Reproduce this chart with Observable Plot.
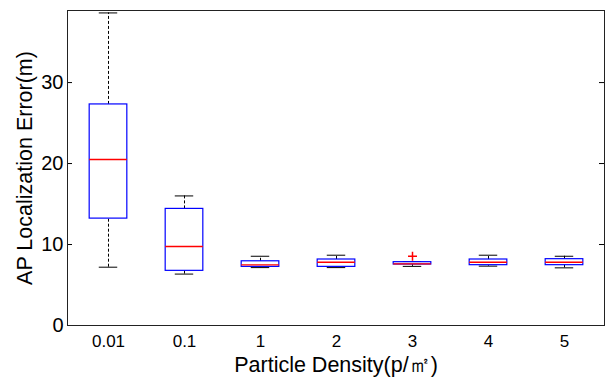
<!DOCTYPE html>
<html>
<head>
<meta charset="utf-8">
<script src="https://cdn.jsdelivr.net/npm/d3@7"></script>
<script src="https://cdn.jsdelivr.net/npm/@observablehq/plot@0.6"></script>
<style>
  html, body { margin: 0; padding: 0; background: #fff; }
  #chart svg { font-family: "Liberation Sans", Arial, sans-serif; display: block; }
</style>
</head>
<body>
<div id="chart"></div>
<script>
const categories = ["0.01", "0.1", "1", "2", "3", "4", "5"];
const lowerWhisker = [7.2, 6.35, 7.15, 7.15, 7.3, 7.33, 7.12];
const q1 = [13.2, 6.75, 7.24, 7.24, 7.53, 7.45, 7.45];
const median = [20.5, 9.75, 7.49, 7.82, 7.61, 7.82, 7.82];
const q3 = [27.3, 14.4, 7.93, 8.15, 7.82, 8.15, 8.19];
const upperWhisker = [38.6, 16.0, 8.55, 8.68, 7.9, 8.68, 8.55];
const outlierCategory = ["3"];
const outlierValue = [8.55];
const yTicks = [0, 10, 20, 30];
const xLabel = "Particle Density(p/㎡)";
const yLabel = "AP Localization Error(m)";

const boxes = categories.map((c, i) => ({
  cat: c, lo: lowerWhisker[i], q1: q1[i], med: median[i], q3: q3[i], hi: upperWhisker[i]
}));
const outliers = outlierCategory.map((c, i) => ({cat: c, v: outlierValue[i]}));

const W = 607, H = 379, ML = 67, MR = 3, MT = 10, MB = 54;
const innerW = W - ML - MR;
const band = innerW / categories.length;
const boxInset = band * 0.25;
const capInset = band * 0.375;

const chart = Plot.plot({
  width: W, height: H,
  marginLeft: ML, marginRight: MR, marginTop: MT, marginBottom: MB,
  x: {type: "band", domain: categories, padding: 0},
  y: {domain: [0, 38.9]},
  marks: [
    Plot.ruleX(boxes, {x: "cat", y1: "q3", y2: "hi", stroke: "black", strokeDasharray: "3,2"}),
    Plot.ruleX(boxes, {x: "cat", y1: "lo", y2: "q1", stroke: "black", strokeDasharray: "3,2"}),
    Plot.tickY(boxes, {x: "cat", y: "hi", stroke: "black", insetLeft: capInset, insetRight: capInset}),
    Plot.tickY(boxes, {x: "cat", y: "lo", stroke: "black", insetLeft: capInset, insetRight: capInset}),
    Plot.barY(boxes, {x: "cat", y1: "q1", y2: "q3", fill: "white", stroke: "#0000ff", strokeWidth: 1.2, insetLeft: boxInset, insetRight: boxInset}),
    Plot.tickY(boxes, {x: "cat", y: "med", stroke: "#ff0000", strokeWidth: 1.4, insetLeft: boxInset, insetRight: boxInset}),
    Plot.dot(outliers, {x: "cat", y: "v", symbol: "plus", stroke: "#ff0000", r: 3, strokeWidth: 1.5}),
    Plot.tickY(yTicks, {y: d => d, stroke: "black", insetRight: innerW - 5}),
    Plot.tickY(yTicks, {y: d => d, stroke: "black", insetLeft: innerW - 5}),
    Plot.frame({stroke: "#222"}),
    Plot.axisY(yTicks, {anchor: "left", tickSize: 0, tickPadding: 4, fontSize: 20, fill: "black", label: null}),
    Plot.axisX({anchor: "bottom", tickSize: 0, tickPadding: 9, fontSize: 17, fill: "black", label: null}),
    Plot.text([xLabel], {frameAnchor: "bottom", dy: 40, textAnchor: "middle", lineAnchor: "middle", fontSize: 21.5, fill: "black"}),
    Plot.text([yLabel], {frameAnchor: "left", dx: -42, rotate: -90, textAnchor: "middle", lineAnchor: "middle", fontSize: 21.5, fill: "black"})
  ]
});
document.getElementById("chart").appendChild(chart);
</script>
</body>
</html>
